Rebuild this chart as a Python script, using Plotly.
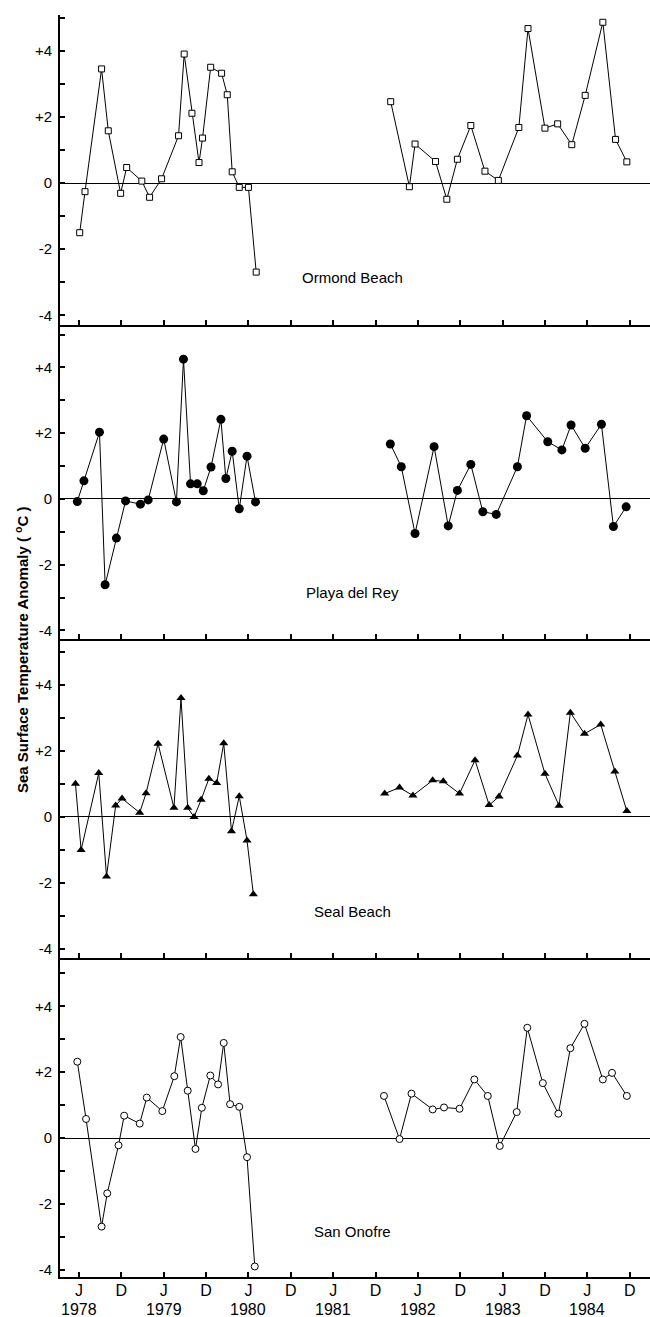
import plotly.graph_objects as go

# ---------------- data (x = months since Jan 1978, y = SST anomaly, deg C) ----
stations = ["Ormond Beach", "Playa del Rey", "Seal Beach", "San Onofre"]

ormond_x_a = [5.1, 5.85, 8.2, 9.15, 10.9, 11.75, 13.9, 15.0, 16.7, 19.1, 19.9, 21.0, 22.0, 22.5, 23.65, 25.2, 26.0, 26.7, 27.7, 29.0, 30.1]
ormond_y_a = [-1.5, -0.26, 3.45, 1.58, -0.31, 0.47, 0.06, -0.43, 0.13, 1.43, 3.9, 2.11, 0.62, 1.36, 3.5, 3.32, 2.67, 0.34, -0.13, -0.13, -2.69]
ormond_x_b = [49.15, 51.8, 52.6, 55.5, 57.1, 58.6, 60.5, 62.5, 64.4, 67.3, 68.6, 71.0, 72.8, 74.8, 76.7, 79.2, 81.0, 82.6]
ormond_y_b = [2.46, -0.11, 1.18, 0.65, -0.49, 0.72, 1.74, 0.36, 0.08, 1.68, 4.67, 1.66, 1.79, 1.16, 2.65, 4.86, 1.32, 0.64]

playa_x_a = [4.76, 5.7, 7.9, 8.7, 10.3, 11.6, 13.7, 14.8, 17.0, 18.8, 19.8, 20.8, 21.75, 22.6, 23.7, 25.1, 25.8, 26.7, 27.7, 28.8, 30.0]
playa_y_a = [-0.08, 0.55, 2.03, -2.61, -1.19, -0.06, -0.16, -0.03, 1.82, -0.09, 4.25, 0.46, 0.46, 0.25, 0.97, 2.42, 0.62, 1.45, -0.3, 1.3, -0.09]
playa_x_b = [49.1, 50.65, 52.6, 55.3, 57.3, 58.6, 60.5, 62.2, 64.1, 67.1, 68.4, 71.4, 73.4, 74.7, 76.7, 79.0, 80.7, 82.5]
playa_y_b = [1.67, 0.98, -1.05, 1.59, -0.82, 0.26, 1.05, -0.39, -0.47, 0.98, 2.53, 1.74, 1.49, 2.25, 1.54, 2.27, -0.84, -0.24]

seal_x_a = [4.5, 5.3, 7.8, 8.9, 10.2, 11.1, 13.6, 14.5, 16.2, 18.45, 19.45, 20.4, 21.3, 22.3, 23.4, 24.5, 25.5, 26.6, 27.7, 28.8, 29.7]
seal_y_a = [1.01, -1.0, 1.33, -1.8, 0.35, 0.56, 0.13, 0.72, 2.22, 0.28, 3.6, 0.28, 0.0, 0.52, 1.16, 1.03, 2.23, -0.43, 0.63, -0.71, -2.34]
seal_x_b = [48.3, 50.4, 52.3, 55.1, 56.6, 58.9, 61.1, 63.1, 64.5, 67.1, 68.6, 71.0, 73.0, 74.6, 76.6, 78.9, 80.9, 82.6]
seal_y_b = [0.71, 0.89, 0.65, 1.11, 1.08, 0.71, 1.72, 0.36, 0.62, 1.86, 3.1, 1.31, 0.34, 3.16, 2.52, 2.8, 1.38, 0.18]

onofre_x_a = [4.76, 6.0, 8.2, 9.0, 10.6, 11.4, 13.6, 14.6, 16.8, 18.5, 19.4, 20.4, 21.5, 22.4, 23.6, 24.7, 25.5, 26.4, 27.7, 28.8, 29.9]
onofre_y_a = [2.32, 0.58, -2.69, -1.68, -0.22, 0.68, 0.44, 1.23, 0.82, 1.88, 3.07, 1.44, -0.33, 0.92, 1.9, 1.63, 2.89, 1.03, 0.95, -0.58, -3.9]
onofre_x_b = [48.2, 50.4, 52.1, 55.1, 56.7, 58.9, 61.0, 62.9, 64.6, 67.0, 68.5, 70.7, 72.9, 74.6, 76.6, 79.2, 80.5, 82.6]
onofre_y_b = [1.28, -0.03, 1.35, 0.87, 0.93, 0.89, 1.78, 1.28, -0.24, 0.79, 3.35, 1.67, 0.74, 2.73, 3.47, 1.78, 1.98, 1.28]

tick_months = [5, 11, 17, 23, 29, 35, 41, 47, 53, 59, 65, 71, 77, 83]
tick_text = ["J", "D", "J", "D", "J", "D", "J", "D", "J", "D", "J", "D", "J", "D"]
year_months = [5, 17, 29, 41, 53, 65, 77]
year_labels = ["1978", "1979", "1980", "1981", "1982", "1983", "1984"]

y_tickvals = [-4, -2, 0, 2, 4]
y_ticktext = ["-4", "-2", "0", "+2", "+4"]

# ---------------- layout constants ----------------
W, H = 650, 1317
FONT = "Liberation Sans, Arial, Helvetica, sans-serif"
ML = 60  # left margin (y-axis line position)
panel_px = [(15, 325), (325, 639), (639, 958), (958, 1277)]
panel_ranges = [[-4.29, 5.08], [-4.26, 5.29], [-4.27, 5.39], [-4.22, 5.47]]
x_range = [2.31, 85.88]

series = [
    (ormond_x_a, ormond_y_a, ormond_x_b, ormond_y_b,
     dict(symbol="square", size=6, color="white", line=dict(color="black", width=1))),
    (playa_x_a, playa_y_a, playa_x_b, playa_y_b,
     dict(symbol="circle", size=9, color="black", line=dict(color="black", width=0))),
    (seal_x_a, seal_y_a, seal_x_b, seal_y_b,
     dict(symbol="triangle-up", size=8, color="black", line=dict(color="black", width=0))),
    (onofre_x_a, onofre_y_a, onofre_x_b, onofre_y_b,
     dict(symbol="circle", size=7, color="white", line=dict(color="black", width=1))),
]

fig = go.Figure()
annotations = []
for i, (xa, ya, xb, yb, mk) in enumerate(series):
    n = "" if i == 0 else str(i + 1)
    xs = list(xa) + [None] + list(xb)
    ys = list(ya) + [None] + list(yb)
    fig.add_trace(go.Scatter(
        x=xs, y=ys, mode="lines+markers", connectgaps=False,
        line=dict(color="black", width=1), marker=mk, cliponaxis=False,
        xaxis="x" + n, yaxis="y" + n, showlegend=False, hoverinfo="skip"))
    top, bot = panel_px[i]
    last = (i == 3)
    fig.update_layout(**{
        "xaxis" + n: dict(
            domain=[0, 1], anchor="y" + n, range=x_range, automargin=False,
            tickvals=tick_months, ticktext=tick_text,
            showticklabels=last, ticks="inside", ticklen=5, tickwidth=1.5, tickcolor="black",
            showline=True, linewidth=2, linecolor="black", showgrid=False, zeroline=False,
            tickfont=dict(family=FONT, size=16, color="black"), ticklabelstandoff=-2,
        ),
        "yaxis" + n: dict(
            domain=[1 - bot / H, 1 - top / H], anchor="x" + n, range=panel_ranges[i],
            automargin=False,
            tickvals=y_tickvals, ticktext=y_ticktext, ticks="inside", ticklen=5,
            tickwidth=1.5, tickcolor="black", showline=True, linewidth=2, linecolor="black",
            minor=dict(ticks="inside", dtick=1, tick0=0, ticklen=5, tickwidth=1.5,
                       tickcolor="black", showgrid=False),
            showgrid=False, zeroline=True, zerolinecolor="black", zerolinewidth=1.3,
            tickfont=dict(family=FONT, size=15, color="black"), ticklabelstandoff=3,
        ),
    })
    annotations.append(dict(
        x=43.8, y=-2.85, xref="x" + n, yref="y" + n, text=stations[i], showarrow=False,
        font=dict(family=FONT, size=15, color="black"), xanchor="center", yanchor="middle"))

for m, yl in zip(year_months, year_labels):
    annotations.append(dict(
        x=m, y=1 - 1309 / H, xref="x4", yref="paper", text=yl, showarrow=False,
        font=dict(family=FONT, size=16, color="black"), xanchor="center", yanchor="middle"))

annotations.append(dict(
    x=(21 - ML) / (W - ML), y=1 - 650 / H, xref="paper", yref="paper",
    text="<b>Sea Surface Temperature Anomaly ( <sup>o</sup>C )</b>", textangle=-90, showarrow=False,
    font=dict(family=FONT, size=15, color="black"), xanchor="center", yanchor="middle"))

fig.update_layout(
    template="none",
    width=W, height=H, margin=dict(l=ML, r=0, t=0, b=0, pad=0),
    paper_bgcolor="white", plot_bgcolor="white", annotations=annotations,
    font=dict(family=FONT, color="black"),
)
fig.write_html(
    "out.html",
    config={"displayModeBar": False},
    post_script="document.body.style.margin='0';document.body.style.overflow='hidden';",
)
